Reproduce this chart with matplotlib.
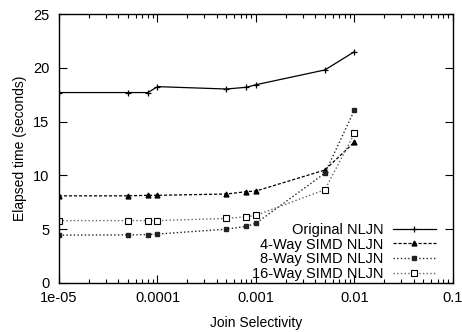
import matplotlib
matplotlib.use("Agg")
import matplotlib.pyplot as plt
from matplotlib.ticker import LogLocator, NullFormatter

plt.rcParams["font.family"] = ["Liberation Sans", "DejaVu Sans"]

selectivity = [1e-5, 5e-5, 8e-5, 1e-4, 5e-4, 8e-4, 1e-3, 5e-3, 1e-2]
original = [17.7, 17.7, 17.7, 18.25, 18.03, 18.19, 18.43, 19.8, 21.5]
simd4 = [8.1, 8.1, 8.15, 8.15, 8.27, 8.49, 8.55, 10.5, 13.1]
simd8 = [4.45, 4.47, 4.5, 4.55, 5.0, 5.27, 5.55, 10.2, 16.08]
simd16 = [5.8, 5.8, 5.8, 5.8, 6.0, 6.16, 6.29, 8.67, 13.9]

xticks = [1e-5, 1e-4, 1e-3, 1e-2, 1e-1]
xticklabels = ["1e-05", "0.0001", "0.001", "0.01", "0.1"]
yticks = [0, 5, 10, 15, 20, 25]

fig = plt.figure(figsize=(4.62, 3.32), dpi=100)
ax = fig.add_axes([0.1277, 0.1476, 0.8528, 0.8102])

ax.plot(selectivity, original, "-", color="black", lw=0.9, marker="+",
        ms=4, mew=0.9, label="Original NLJN")
ax.plot(selectivity, simd4, "--", color="black", lw=0.9, marker="^",
        ms=3.5, dashes=(2.5, 1.5), label="4-Way SIMD NLJN")
ax.plot(selectivity, simd8, ":", color="#222222", lw=1.0, marker="s",
        ms=2.8, label="8-Way SIMD NLJN")
ax.plot(selectivity, simd16, ":", color="#666666", lw=1.0, marker="s",
        ms=4, mfc="white", mec="black", mew=0.8, label="16-Way SIMD NLJN")

ax.set_xscale("log")
ax.set_xlim(1e-5, 1e-1)
ax.set_ylim(0, 25)
ax.set_xticks(xticks)
ax.set_xticklabels(xticklabels)
ax.xaxis.set_minor_locator(LogLocator(base=10, subs=range(2, 10), numticks=20))
ax.xaxis.set_minor_formatter(NullFormatter())
ax.set_yticks(yticks)

ax.tick_params(which="both", direction="in", top=True, right=True,
               labelsize=10.5, width=0.8)
ax.tick_params(which="major", length=6)
ax.tick_params(which="minor", length=3)
ax.tick_params(axis="x", pad=6)
ax.tick_params(axis="y", pad=7)
for s in ax.spines.values():
    s.set_linewidth(1.0)

ax.set_xlabel("Join Selectivity", fontsize=10, labelpad=8)
ax.set_ylabel("Elapsed time (seconds)", fontsize=10, labelpad=4)

ax.legend(loc="lower right", frameon=False, markerfirst=False, fontsize=10.5,
          handlelength=3.0, labelspacing=0.05, handletextpad=0.6,
          borderaxespad=0.2, bbox_to_anchor=(0.98, -0.025))

fig.savefig("out.png", dpi=100)
